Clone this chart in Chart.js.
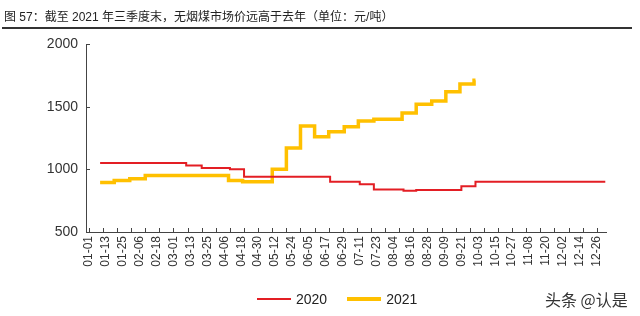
<!DOCTYPE html>
<html>
<head>
<meta charset="utf-8">
<script src="https://cdn.jsdelivr.net/npm/chart.js@4"></script>
<style>
  html, body { margin: 0; padding: 0; background: #fff; }
  #wrap { position: relative; width: 640px; height: 316px; overflow: hidden; }
  #title { position: absolute; left: 4px; top: 7px; font: 12px "Liberation Sans", "Noto Sans CJK SC", sans-serif; color: #222; white-space: nowrap; }
  #rule { position: absolute; left: 2px; top: 27px; width: 630px; height: 2px; background: #333; }
  #legend { position: absolute; left: 257px; top: 289px; height: 18px; font: 14px "Liberation Sans", sans-serif; color: #222; white-space: nowrap; }
  .item { display: inline-block; vertical-align: middle; margin-right: 20px; }
  .swatch { display: inline-block; vertical-align: middle; width: 34px; margin-right: 5px; }
  .lbl { display: inline-block; vertical-align: middle; }
  #mark { position: absolute; left: 545px; top: 287px; font: 16px "Noto Sans CJK SC", sans-serif; color: #333; white-space: nowrap; }
  canvas { position: absolute; left: 0; top: 0; }
</style>
</head>
<body>
<div id="wrap">
  <canvas id="c" width="640" height="316"></canvas>
  <div id="title">图 57：截至 2021 年三季度末，无烟煤市场价远高于去年（单位：元/吨）</div>
  <div id="rule"></div>
  <div id="legend">
    <span class="item"><span class="swatch" style="height:2px;background:#E31E24"></span><span class="lbl">2020</span></span><span class="item"><span class="swatch" style="height:4px;background:#FFC000"></span><span class="lbl">2021</span></span>
  </div>
  <div id="mark">头条 @认是</div>
</div>
<script>
// Tick labels (one every 12 days along the year)
const tickLabels = ['01-01','01-13','01-25','02-06','02-18','03-01','03-13','03-25','04-06','04-18','04-30',
  '05-12','05-24','06-05','06-17','06-29','07-11','07-23','08-04','08-16','08-28','09-09','09-21',
  '10-03','10-15','10-27','11-08','11-20','12-02','12-14','12-26'];

// 2020 series: day-of-year where price changes, and the price from that day on (元/吨)
const days2020   = [8,    69,   80,   100,  110, 171, 192, 202, 223, 232, 264, 274, 366];
const values2020 = [1050, 1030, 1010, 1000, 940, 900, 880, 840, 830, 835, 865, 900, 900];

// 2021 series
const days2021   = [8,   18,  29,  40,  99,  109, 130,  140,  150,  160,  170,  181,  191,  202,  222,  232,  243,  253,  263,  273,  274];
const values2021 = [895, 910, 925, 950, 910, 900, 1000, 1170, 1345, 1260, 1300, 1340, 1385, 1400, 1450, 1520, 1545, 1620, 1680, 1710, 1710];

const yTickValues = [500, 1000, 1500, 2000];

const axisColor = '#444';
const labelDays = tickLabels.map((_, i) => i * 12);
const tickMarkDays = [];
for (let d = 0; d <= 360; d += 10) tickMarkDays.push(d);

const innerTicks = {
  id: 'innerTicks',
  afterDatasetsDraw(chart) {
    const { ctx, chartArea, scales: { x, y } } = chart;
    ctx.save();
    ctx.strokeStyle = axisColor;
    ctx.lineWidth = 1;
    ctx.beginPath();
    for (const v of tickMarkDays) {
      const px = Math.round(x.getPixelForValue(v)) + 0.5;
      ctx.moveTo(px, chartArea.bottom);
      ctx.lineTo(px, chartArea.bottom - 4);
    }
    for (const v of yTickValues) {
      const py = Math.round(y.getPixelForValue(v)) + 0.5;
      ctx.moveTo(chartArea.left, py);
      ctx.lineTo(chartArea.left + 4, py);
    }
    ctx.stroke();
    ctx.restore();
  }
};

const toPts = (ds, vs) => ds.map((d, i) => ({ x: d, y: vs[i] }));

new Chart(document.getElementById('c'), {
  type: 'line',
  data: {
    datasets: [
      { label: '2020', data: toPts(days2020, values2020), borderColor: '#E31E24', borderWidth: 2, pointRadius: 0, stepped: true, fill: false },
      { label: '2021', data: toPts(days2021, values2021), borderColor: '#FFC000', borderWidth: 3.5, pointRadius: 0, stepped: true, fill: false }
    ]
  },
  options: {
    responsive: false,
    animation: false,
    devicePixelRatio: 1,
    layout: { padding: { left: 0, right: 34, top: 44, bottom: 44 } },
    plugins: { legend: { display: false }, tooltip: { enabled: false }, title: { display: false } },
    scales: {
      x: {
        type: 'linear',
        min: -2,
        max: 366.5,
        afterBuildTicks: (scale) => { scale.ticks = labelDays.map(v => ({ value: v })); },
        afterFit: (scale) => { scale.height = 40; },
        grid: { display: false, drawTicks: false },
        border: { display: true, color: axisColor, width: 1 },
        ticks: {
          autoSkip: false, maxRotation: 90, minRotation: 90, padding: 4,
          color: '#333', font: { family: 'Liberation Sans', size: 12 },
          callback: (v) => tickLabels[Math.round(v / 12)]
        }
      },
      y: {
        min: 500,
        max: 2000,
        afterBuildTicks: (scale) => { scale.ticks = yTickValues.map(v => ({ value: v })); },
        afterFit: (scale) => { scale.width = 86; },
        grid: { display: false, drawTicks: false },
        border: { display: true, color: axisColor, width: 1 },
        ticks: { padding: 8, color: '#333', font: { family: 'Liberation Sans', size: 14 }, callback: (v) => String(v) }
      }
    }
  },
  plugins: [innerTicks]
});
</script>
</body>
</html>
